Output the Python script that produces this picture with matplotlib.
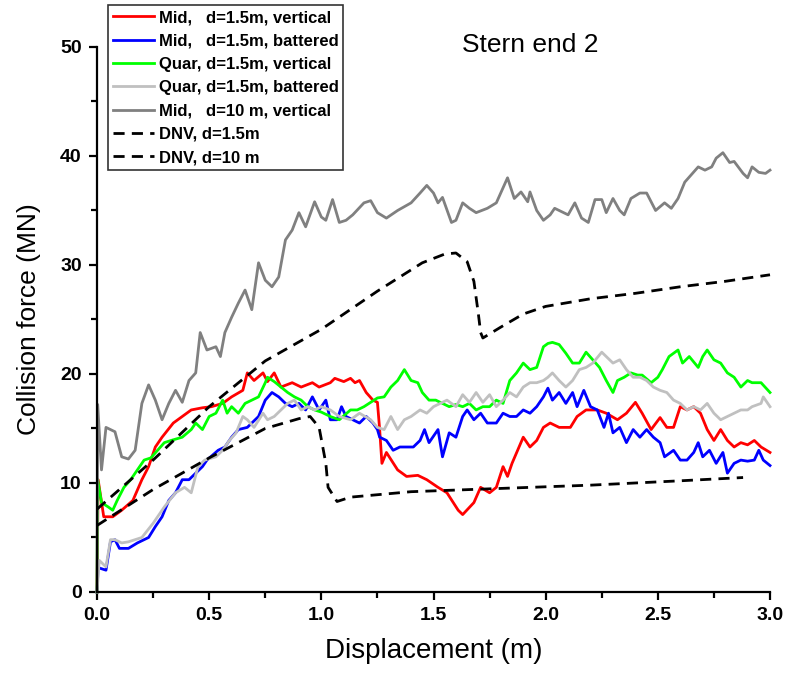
import numpy as np
import matplotlib
matplotlib.use("Agg")
import matplotlib.pyplot as plt
from matplotlib.ticker import MultipleLocator

plt.rcParams['font.family'] = ['Liberation Sans', 'DejaVu Sans']

# --- data: (displacement m, force MN) ---
mid_15_vert = [(0, 0), (0.005, 10.3), (0.03, 6.9), (0.07, 6.9), (0.11, 7.5), (0.16, 8.4), (0.20, 10.3),
               (0.23, 11.5), (0.26, 13.3), (0.29, 14.2), (0.34, 15.5), (0.38, 16.1), (0.42, 16.7), (0.47, 16.9),
               (0.51, 17.0), (0.56, 17.3), (0.60, 17.9), (0.65, 18.5), (0.67, 20.1), (0.70, 19.4), (0.74, 20.1),
               (0.76, 19.3), (0.79, 20.1), (0.82, 18.8), (0.87, 19.2), (0.91, 18.8), (0.96, 19.2), (0.99, 18.8),
               (1.04, 19.2), (1.06, 19.6), (1.10, 19.3), (1.13, 19.6), (1.15, 19.2), (1.17, 19.4), (1.20, 18.3),
               (1.23, 17.6), (1.25, 17.4), (1.26, 14.9), (1.27, 11.8), (1.29, 12.8), (1.34, 11.2), (1.38, 10.6),
               (1.43, 10.7), (1.47, 10.3), (1.52, 9.6), (1.56, 9.1), (1.61, 7.5), (1.63, 7.1), (1.68, 8.2),
               (1.71, 9.6), (1.75, 9.1), (1.78, 9.6), (1.81, 11.5), (1.83, 10.6), (1.85, 11.8), (1.90, 14.2),
               (1.93, 13.3), (1.96, 13.9), (1.99, 15.1), (2.02, 15.5), (2.06, 15.1), (2.11, 15.1), (2.14, 16.1),
               (2.18, 16.7), (2.23, 16.7), (2.27, 16.4), (2.32, 15.8), (2.36, 16.4), (2.40, 17.4), (2.43, 16.4),
               (2.47, 14.9), (2.51, 16.0), (2.54, 15.1), (2.57, 15.1), (2.60, 17.0), (2.63, 16.7), (2.66, 17.0),
               (2.69, 16.4), (2.72, 14.9), (2.75, 13.9), (2.78, 14.9), (2.81, 13.9), (2.84, 13.3), (2.87, 13.7),
               (2.90, 13.5), (2.93, 13.9), (2.96, 13.3), (3.0, 12.8)]

mid_15_batt = [(0, 0), (0.005, 2.3), (0.01, 2.2), (0.04, 2.0), (0.06, 4.6), (0.08, 4.8), (0.10, 4.0), (0.14, 4.0),
               (0.18, 4.5), (0.23, 5.0), (0.26, 6.0), (0.29, 6.9), (0.32, 8.4), (0.35, 9.1), (0.38, 10.3),
               (0.41, 10.3), (0.44, 10.9), (0.47, 11.5), (0.49, 12.1), (0.54, 13.0), (0.57, 13.3), (0.60, 14.2),
               (0.63, 14.9), (0.67, 15.1), (0.72, 16.1), (0.75, 17.6), (0.78, 18.3), (0.81, 17.9), (0.84, 17.3),
               (0.87, 17.0), (0.90, 17.3), (0.93, 16.7), (0.96, 17.9), (0.99, 16.7), (1.02, 17.6), (1.04, 15.8),
               (1.07, 15.8), (1.09, 17.0), (1.11, 16.1), (1.14, 15.8), (1.17, 15.5), (1.20, 16.1), (1.23, 15.5),
               (1.25, 14.9), (1.26, 14.2), (1.29, 13.9), (1.32, 13.0), (1.35, 13.3), (1.38, 13.3), (1.41, 13.3),
               (1.44, 13.9), (1.46, 14.9), (1.48, 13.7), (1.52, 14.9), (1.54, 12.4), (1.57, 14.6), (1.60, 14.2),
               (1.63, 16.1), (1.65, 16.7), (1.68, 15.8), (1.71, 16.4), (1.74, 15.5), (1.78, 15.5), (1.81, 16.4),
               (1.84, 16.1), (1.87, 16.1), (1.90, 16.7), (1.93, 16.4), (1.96, 17.0), (1.99, 17.9), (2.01, 18.7),
               (2.03, 17.6), (2.06, 18.3), (2.09, 17.3), (2.12, 18.3), (2.14, 17.0), (2.17, 18.5), (2.20, 17.0),
               (2.23, 16.7), (2.26, 15.1), (2.28, 16.4), (2.30, 14.6), (2.33, 15.1), (2.36, 13.7), (2.39, 14.9),
               (2.42, 14.2), (2.45, 14.9), (2.48, 14.2), (2.51, 13.7), (2.53, 12.4), (2.57, 13.0), (2.60, 12.1),
               (2.63, 12.1), (2.66, 12.8), (2.68, 13.7), (2.70, 12.4), (2.73, 13.0), (2.76, 11.8), (2.79, 12.8),
               (2.81, 10.9), (2.84, 11.8), (2.87, 12.1), (2.90, 12.0), (2.93, 12.1), (2.95, 13.0), (2.97, 12.1),
               (3.0, 11.6)]

quar_15_vert = [(0, 0), (0.003, 10.3), (0.02, 8.2), (0.05, 7.8), (0.07, 7.5), (0.09, 8.4), (0.12, 9.6),
                (0.15, 10.3), (0.18, 11.2), (0.21, 12.1), (0.24, 12.3), (0.27, 13.0), (0.30, 13.7), (0.33, 13.9),
                (0.38, 14.2), (0.42, 14.9), (0.44, 15.5), (0.47, 14.9), (0.50, 16.1), (0.53, 16.4), (0.56, 17.6),
                (0.58, 16.4), (0.60, 17.0), (0.63, 16.4), (0.66, 17.3), (0.69, 17.6), (0.72, 17.9), (0.75, 19.2),
                (0.76, 19.7), (0.79, 19.3), (0.82, 18.8), (0.85, 18.3), (0.88, 17.9), (0.91, 17.6), (0.94, 17.0),
                (0.97, 16.7), (1.00, 16.5), (1.04, 16.1), (1.08, 15.8), (1.13, 16.7), (1.16, 16.7), (1.19, 17.0),
                (1.22, 17.4), (1.25, 17.8), (1.28, 17.9), (1.31, 18.8), (1.34, 19.4), (1.37, 20.4), (1.40, 19.4),
                (1.43, 19.2), (1.45, 18.3), (1.48, 17.6), (1.51, 17.6), (1.54, 17.3), (1.57, 17.0), (1.60, 17.2),
                (1.63, 17.0), (1.66, 17.3), (1.69, 16.7), (1.72, 17.0), (1.75, 17.0), (1.78, 17.6), (1.81, 17.3),
                (1.84, 19.4), (1.87, 20.1), (1.90, 21.0), (1.93, 20.4), (1.96, 20.6), (1.99, 22.5), (2.01, 22.8),
                (2.03, 22.9), (2.06, 22.7), (2.09, 21.9), (2.12, 21.0), (2.15, 21.0), (2.18, 22.0), (2.21, 21.3),
                (2.24, 20.6), (2.27, 19.4), (2.30, 18.3), (2.32, 19.4), (2.35, 19.7), (2.38, 20.1), (2.41, 19.9),
                (2.43, 19.9), (2.47, 19.2), (2.50, 19.7), (2.52, 20.4), (2.55, 21.6), (2.59, 22.2), (2.61, 21.0),
                (2.64, 21.6), (2.68, 20.6), (2.70, 21.6), (2.72, 22.2), (2.75, 21.3), (2.78, 21.0), (2.81, 20.1),
                (2.84, 19.7), (2.87, 18.8), (2.90, 19.4), (2.92, 19.2), (2.96, 19.2), (3.0, 18.3)]

quar_15_batt = [(0, 0), (0.01, 2.9), (0.04, 2.3), (0.06, 4.8), (0.08, 4.8), (0.11, 4.5), (0.14, 4.6), (0.17, 4.8),
                (0.20, 5.0), (0.25, 6.3), (0.27, 6.9), (0.30, 7.8), (0.35, 9.1), (0.39, 9.6), (0.42, 9.1),
                (0.45, 11.5), (0.48, 12.1), (0.53, 12.4), (0.56, 13.0), (0.59, 13.9), (0.62, 14.6), (0.65, 16.1),
                (0.67, 15.8), (0.70, 15.1), (0.74, 16.4), (0.76, 15.8), (0.79, 16.1), (0.82, 16.7), (0.85, 17.3),
                (0.88, 17.6), (0.91, 16.7), (0.94, 17.0), (0.97, 16.7), (1.00, 17.0), (1.04, 16.7), (1.08, 16.1),
                (1.13, 15.8), (1.17, 16.4), (1.22, 15.8), (1.25, 15.1), (1.28, 14.9), (1.31, 16.1), (1.34, 14.9),
                (1.37, 15.8), (1.40, 16.1), (1.44, 16.7), (1.47, 16.4), (1.50, 17.0), (1.53, 17.3), (1.56, 17.6),
                (1.60, 17.0), (1.63, 18.1), (1.66, 17.4), (1.69, 18.3), (1.72, 17.4), (1.75, 18.1), (1.78, 17.0),
                (1.81, 17.6), (1.84, 18.3), (1.87, 17.9), (1.90, 18.8), (1.93, 19.2), (1.96, 19.2), (1.99, 19.4),
                (2.01, 19.7), (2.03, 20.1), (2.06, 19.4), (2.09, 18.8), (2.12, 19.4), (2.15, 20.4), (2.18, 20.6),
                (2.21, 21.0), (2.25, 22.0), (2.27, 21.6), (2.30, 21.0), (2.33, 21.3), (2.36, 20.4), (2.39, 19.7),
                (2.42, 19.7), (2.45, 19.4), (2.48, 18.8), (2.51, 18.5), (2.54, 18.3), (2.57, 17.6), (2.60, 17.3),
                (2.63, 16.7), (2.66, 17.0), (2.69, 16.7), (2.72, 17.3), (2.75, 16.4), (2.78, 15.8), (2.81, 16.1),
                (2.84, 16.4), (2.87, 16.7), (2.90, 16.7), (2.92, 17.0), (2.96, 17.3), (2.97, 17.9), (3.0, 17.0)]

mid_10_vert = [(0, 0), (0.003, 17.2), (0.02, 11.2), (0.04, 15.1), (0.08, 14.7), (0.11, 12.4), (0.14, 12.2),
               (0.17, 13.0), (0.20, 17.3), (0.23, 19.0), (0.26, 17.6), (0.29, 15.8), (0.32, 17.3), (0.35, 18.5),
               (0.38, 17.4), (0.41, 19.4), (0.44, 20.1), (0.46, 23.8), (0.49, 22.2), (0.53, 22.5), (0.55, 21.6),
               (0.57, 23.8), (0.60, 25.2), (0.63, 26.5), (0.66, 27.7), (0.69, 25.9), (0.72, 30.2), (0.75, 28.6),
               (0.78, 28.0), (0.81, 28.9), (0.84, 32.3), (0.87, 33.2), (0.90, 34.8), (0.93, 33.5), (0.97, 35.8),
               (1.00, 34.4), (1.02, 34.1), (1.05, 36.0), (1.08, 33.9), (1.11, 34.1), (1.14, 34.6), (1.19, 35.7),
               (1.22, 35.9), (1.25, 34.8), (1.29, 34.3), (1.34, 35.0), (1.40, 35.7), (1.44, 36.6), (1.47, 37.3),
               (1.50, 36.6), (1.52, 35.7), (1.54, 36.2), (1.58, 33.9), (1.60, 34.1), (1.63, 35.7), (1.66, 35.2),
               (1.69, 34.8), (1.74, 35.2), (1.78, 35.7), (1.83, 38.0), (1.86, 36.1), (1.89, 36.7), (1.92, 35.8),
               (1.93, 36.7), (1.96, 35.0), (1.99, 34.1), (2.02, 34.6), (2.04, 35.2), (2.07, 34.9), (2.10, 34.6),
               (2.13, 35.7), (2.16, 34.3), (2.19, 33.9), (2.22, 36.0), (2.25, 36.0), (2.27, 34.8), (2.30, 36.1),
               (2.33, 35.0), (2.35, 34.6), (2.38, 36.1), (2.42, 36.6), (2.45, 36.6), (2.49, 35.0), (2.53, 35.7),
               (2.56, 35.2), (2.59, 36.1), (2.62, 37.6), (2.65, 38.3), (2.68, 39.0), (2.71, 38.7), (2.74, 39.0),
               (2.76, 39.8), (2.79, 40.3), (2.82, 39.4), (2.84, 39.5), (2.88, 38.4), (2.90, 38.0), (2.92, 39.0),
               (2.95, 38.5), (2.98, 38.4), (3.0, 38.7)]

dnv_15 = [(0, 6.1), (0.25, 9.4), (0.5, 12.3), (0.75, 15.0), (0.9, 15.9), (0.95, 16.1), (0.99, 15.1), (1.02, 11.8),
          (1.03, 9.6), (1.07, 8.3), (1.13, 8.7), (1.4, 9.2), (1.8, 9.5), (2.2, 9.8), (2.6, 10.2), (2.88, 10.5)]

dnv_10 = [(0, 7.6), (0.25, 12.1), (0.5, 17.0), (0.75, 21.2), (1.0, 24.1), (1.25, 27.6), (1.45, 30.2), (1.55, 31.0),
          (1.6, 31.1), (1.65, 30.3), (1.68, 28.5), (1.70, 25.5), (1.71, 23.8), (1.72, 23.3), (1.8, 24.3),
          (1.9, 25.5), (2.0, 26.2), (2.2, 26.9), (2.4, 27.4), (2.6, 28.0), (2.8, 28.5), (3.0, 29.1)]

series = [
    (mid_15_vert, '#ff0000', '-', 'Mid,   d=1.5m, vertical'),
    (mid_15_batt, '#0000ff', '-', 'Mid,   d=1.5m, battered'),
    (quar_15_vert, '#00ff00', '-', 'Quar, d=1.5m, vertical'),
    (quar_15_batt, '#c0c0c0', '-', 'Quar, d=1.5m, battered'),
    (mid_10_vert, '#808080', '-', 'Mid,   d=10 m, vertical'),
    (dnv_15, 'black', (0, (4, 2.6)), 'DNV, d=1.5m'),
    (dnv_10, 'black', (0, (4, 2.6)), 'DNV, d=10 m'),
]

fig = plt.figure(figsize=(7.9, 6.75), dpi=100)
ax = fig.add_axes([0.1228, 0.1230, 0.8519, 0.8074])

for pts, col, ls, lab in series:
    x, y = np.array(pts).T
    ax.plot(x, y, color=col, linestyle=ls, lw=2.0, label=lab, clip_on=False)

ax.set_xlim(0, 3)
ax.set_ylim(0, 50)
ax.xaxis.set_major_locator(MultipleLocator(0.5))
ax.xaxis.set_minor_locator(MultipleLocator(0.25))
ax.yaxis.set_major_locator(MultipleLocator(10))
ax.yaxis.set_minor_locator(MultipleLocator(5))
ax.set_xticklabels([f"{v:.1f}" for v in ax.get_xticks()])

for s in ['top', 'right']:
    ax.spines[s].set_visible(False)
for s in ['left', 'bottom']:
    ax.spines[s].set_linewidth(1.6)

ax.tick_params(which='major', direction='out', length=6, width=1.6, labelsize=14, pad=5)
ax.tick_params(which='minor', direction='out', length=4.5, width=1.6)
for lbl in ax.get_xticklabels() + ax.get_yticklabels():
    lbl.set_fontweight('bold')

ax.set_xlabel('Displacement (m)', fontsize=20, labelpad=10)
ax.set_ylabel('Collision force (MN)', fontsize=19, labelpad=14)
ax.text(0.643, 1.004, 'Stern end 2', transform=ax.transAxes, fontsize=19, ha='center', va='center')

leg = ax.legend(loc='upper left', bbox_to_anchor=(0.016, 1.077), fontsize=12, frameon=True, fancybox=False,
                handlelength=2.5, handletextpad=0.25, labelspacing=0.5, borderpad=0.3, borderaxespad=0)
leg.get_frame().set_edgecolor('black')
leg.get_frame().set_linewidth(1.2)
for t in leg.get_texts():
    t.set_fontweight('bold')

fig.savefig('out.png', dpi=100)
